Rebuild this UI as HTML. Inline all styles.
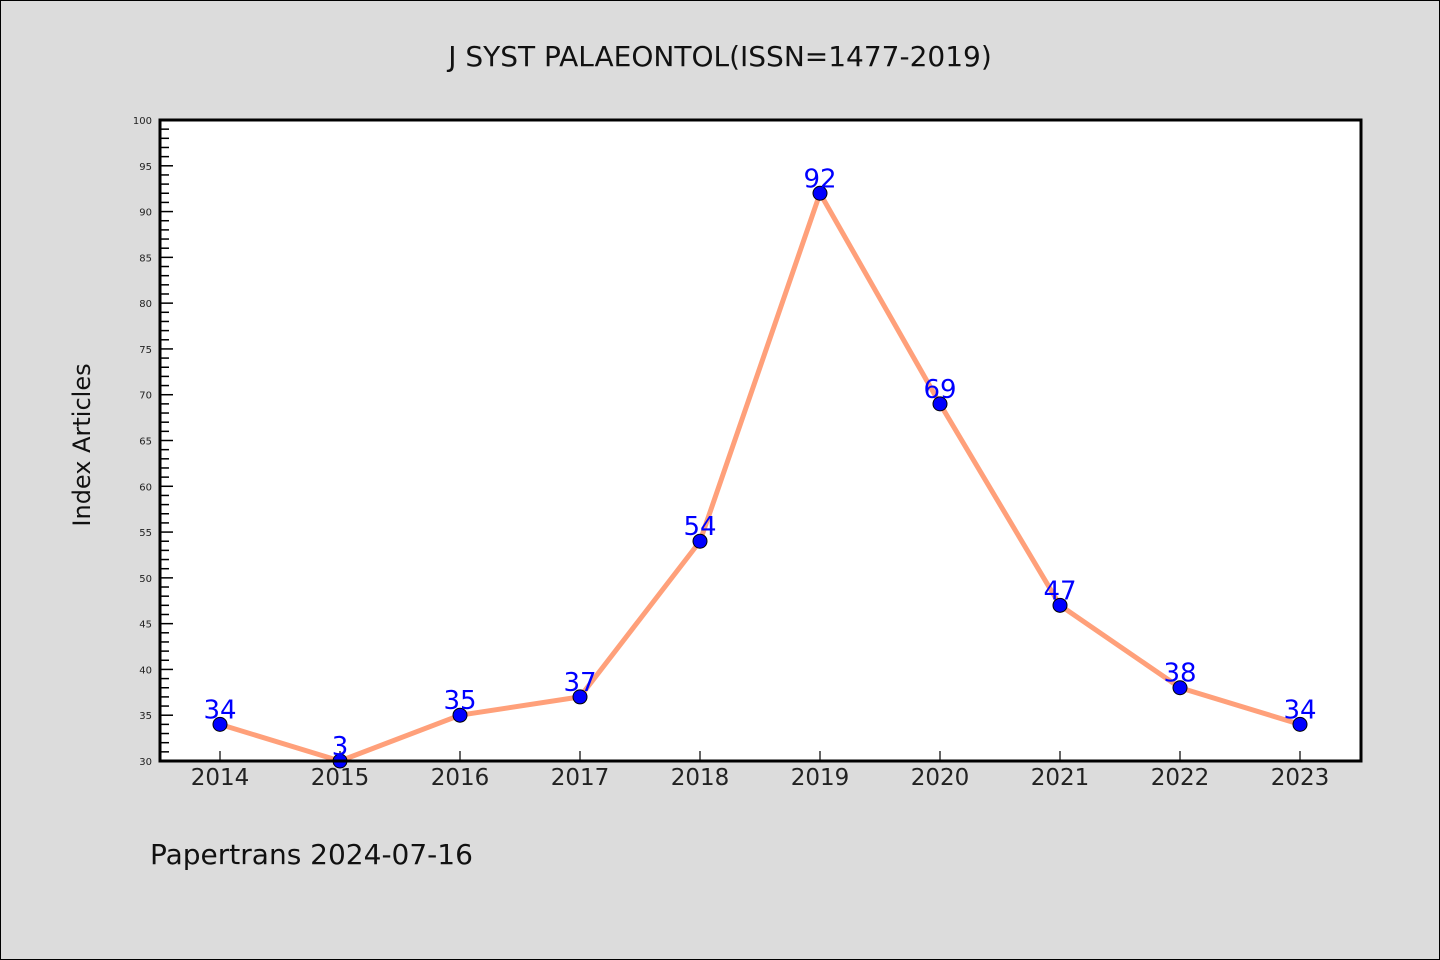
<!DOCTYPE html>
<html><head><meta charset="utf-8"><style>
body{margin:0;background:#dcdcdc}
svg{display:block}
text{font-family:"DejaVu Sans","Liberation Sans",sans-serif}
</style></head><body>
<svg id="c" width="1440" height="960">
<rect x="0.5" y="0.5" width="1439" height="959" fill="#dcdcdc" stroke="#000"/>
<text x="720" y="66" text-anchor="middle" font-size="28" fill="#111">J SYST PALAEONTOL(ISSN=1477-2019)</text>
<rect x="160" y="120" width="1201" height="641" fill="#fff"/>
<text transform="translate(90,445) rotate(-90)" text-anchor="middle" font-size="24" fill="#111">Index Articles</text>
<text x="150" y="864" font-size="28" fill="#111">Papertrans 2024-07-16</text>
<g id="g"></g>
</svg>
<script>
const years=["2014","2015","2016","2017","2018","2019","2020","2021","2022","2023"];
const values=[34,3,35,37,54,92,69,47,38,34];
const yTicks=[30,35,40,45,50,55,60,65,70,75,80,85,90,95,100];
const NS="http://www.w3.org/2000/svg",g=document.getElementById("g");
const L=160,R=1361,T=120,B=761,ymin=30,ymax=100;
const xs=i=>220+i*(R-L-121)/ (years.length-1)*1;
const xp=i=>220+i*((1300-220)/(years.length-1));
const yp=v=>B-(Math.max(ymin,Math.min(ymax,v))-ymin)*(B-T)/(ymax-ymin);
function el(t,a){const e=document.createElementNS(NS,t);for(const k in a)e.setAttribute(k,a[k]);g.appendChild(e);return e;}
for(let v=ymin;v<=ymax;v++){
 const major=v%5===0;
 const t=el("line",{x1:L,x2:L+(major?13:9),y1:yp(v),y2:yp(v),stroke:"#000","stroke-width":1.5});
 
 
}
yTicks.forEach(v=>{
 const t=el("text",{x:152,y:yp(v)+4,"text-anchor":"end","font-size":10,fill:"#222"});
 t.textContent=v;
 
 
});
years.forEach((y,i)=>{
 const t=el("line",{x1:xp(i),x2:xp(i),y1:B,y2:B-10,stroke:"#000","stroke-width":1.2});
 
 
 const l=el("text",{x:xp(i),y:785,"text-anchor":"middle","font-size":23,fill:"#222"});
 l.textContent=y;
 
 
});
const ln=el("polyline",{points:values.map((v,i)=>xp(i)+","+yp(v)).join(" "),fill:"none",stroke:"#ffa07a","stroke-width":5,"stroke-linejoin":"round"});


values.forEach((v,i)=>{
 const c=el("circle",{cx:xp(i),cy:yp(v),r:7,fill:"#0000ff",stroke:"#000","stroke-width":1});
 
 
 const t=el("text",{x:xp(i),y:yp(v)-6,"text-anchor":"middle","font-size":26,fill:"#0000ff"});
 t.textContent=v;
 
 
});
const f=el("rect",{x:L,y:T,width:R-L,height:B-T,fill:"none",stroke:"#000","stroke-width":3});


</script>
</body></html>
